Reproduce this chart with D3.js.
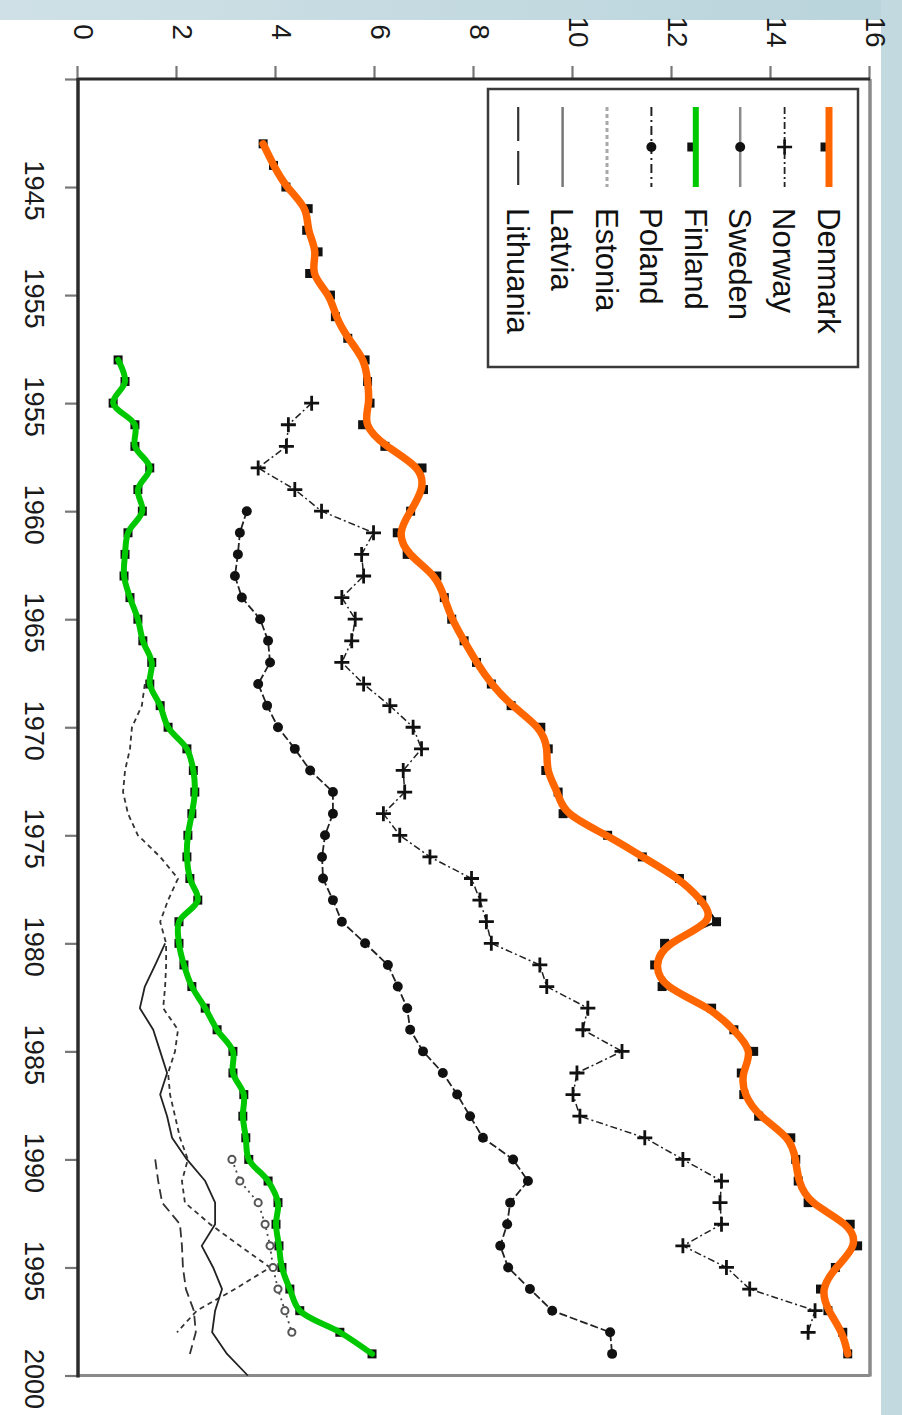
<!DOCTYPE html>
<html>
<head>
<meta charset="utf-8">
<script src="https://cdn.jsdelivr.net/npm/d3@7"></script>
<style>
  html, body { margin: 0; padding: 0; background: #ffffff; }
  svg { display: block; }
  text { font-family: "Liberation Sans", Arial, Helvetica, sans-serif; }
</style>
</head>
<body>
<svg id="chart" width="902" height="1415"></svg>
<script>
// ---- data -------------------------------------------------------------
const yearTicks = [1940, 1945, 1950, 1955, 1960, 1965, 1970, 1975, 1980, 1985, 1990, 1995, 2000];
const yearTickLabels = ["", "1945", "1955", "1955", "1960", "1965", "1970", "1975", "1980", "1985", "1990", "1995", "2000"];
const rateTicks = [0, 2, 4, 6, 8, 10, 12, 14, 16];

const countries = ["Denmark", "Norway", "Sweden", "Finland", "Poland", "Estonia", "Latvia", "Lithuania"];

const denmarkFrom = 1943;
const denmark = [3.74, 3.95, 4.2, 4.65, 4.62, 4.85, 4.68, 5.1, 5.2, 5.45,
                 5.8, 5.85, 5.9, 5.75, 6.2, 6.95, 6.98, 6.72, 6.45, 6.65,
                 7.25, 7.4, 7.55, 7.8, 8.05, 8.35, 8.75, 9.35, 9.5, 9.45,
                 9.7, 9.8, 10.7, 11.4, 12.15, 12.6, 12.9, 11.85, 11.65, 11.8,
                 12.8, 13.25, 13.65, 13.4, 13.45, 13.75, 14.4, 14.5, 14.55, 14.75,
                 15.6, 15.75, 15.3, 15.0, 15.15, 15.45, 15.55];

const norwayFrom = 1955;
const norway = [4.72, 4.25, 4.21, 3.64, 4.38, 4.92, 5.97, 5.73, 5.77, 5.33,
                5.6, 5.53, 5.33, 5.77, 6.3, 6.77, 6.94, 6.57, 6.6, 6.17,
                6.5, 7.11, 7.95, 8.12, 8.25, 8.35, 9.33, 9.47, 10.3, 10.2,
                10.99, 10.08, 10.0, 10.14, 11.45, 12.22, 13.0, 12.97, 13.0, 12.22,
                13.1, 13.57, 14.89, 14.75];

const swedenFrom = 1960;
const sweden = [3.41, 3.27, 3.23, 3.17, 3.31, 3.68, 3.84, 3.88, 3.64, 3.82,
                4.04, 4.38, 4.69, 5.15, 5.15, 4.99, 4.93, 4.95, 5.15, 5.33,
                5.8, 6.26, 6.46, 6.65, 6.71, 6.97, 7.37, 7.66, 7.92, 8.18,
                8.79, 9.09, 8.73, 8.67, 8.53, 8.69, 9.13, 9.58, 10.75, 10.79];

const finlandFrom = 1953;
const finland = [0.81, 0.95, 0.71, 1.15, 1.15, 1.45, 1.21, 1.3, 1.01, 0.95,
                 0.93, 1.05, 1.21, 1.31, 1.49, 1.45, 1.66, 1.82, 2.2, 2.33,
                 2.36, 2.3, 2.22, 2.2, 2.26, 2.42, 2.04, 2.04, 2.14, 2.3,
                 2.57, 2.81, 3.13, 3.13, 3.35, 3.33, 3.39, 3.45, 3.84, 4.04,
                 4.0, 4.06, 4.12, 4.28, 4.48, 5.29, 5.94];

const polandFrom = 1990;
const poland = [3.11, 3.27, 3.64, 3.78, 3.88, 3.94, 4.04, 4.18, 4.32];

const estoniaFrom = 1968;
const estonia = [1.35, 1.29, 1.09, 1.05, 0.95, 0.91, 1.01, 1.21, 1.66, 2.02,
                 1.82, 1.66, 1.78, 1.78, 1.76, 1.72, 2.02, 1.96, 1.82, 1.86,
                 1.96, 2.06, 2.22, 2.1, 2.16, 2.67, 3.27, 3.88, 3.17, 2.4, 2.0];

const latviaFrom = 1980;
const latvia = [1.76, 1.56, 1.35, 1.25, 1.52, 1.66, 1.8, 1.66, 1.8, 1.9,
                2.2, 2.57, 2.77, 2.77, 2.5, 2.73, 2.91, 2.77, 2.71, 3.01, 3.43];

const lithuaniaFrom = 1990;
const lithuania = [1.56, 1.62, 1.7, 2.06, 2.1, 2.12, 2.18, 2.34, 2.38, 2.26];

// ---- helpers ----------------------------------------------------------
const toPoints = (values, from) => values.map((v, i) => ({ year: from + i, value: v }));

const W = 902, H = 1415;
const svg = d3.select("#chart");

// slide background bands
const defs = svg.append("defs");
const topGrad = defs.append("linearGradient").attr("id", "bandTop").attr("x1", 0).attr("x2", 1).attr("y1", 0).attr("y2", 0);
topGrad.append("stop").attr("offset", "0%").attr("stop-color", "#cfe1e6");
topGrad.append("stop").attr("offset", "100%").attr("stop-color", "#b9d4db");
svg.append("rect").attr("x", 0).attr("y", 0).attr("width", W).attr("height", 20).attr("fill", "url(#bandTop)");
svg.append("rect").attr("x", 881).attr("y", 0).attr("width", W - 881).attr("height", H).attr("fill", "#c2d9df");

// the plot is laid out landscape and turned a quarter turn clockwise
const plot = svg.append("g").attr("transform", `translate(${W},0) rotate(90)`);

const x = d3.scaleLinear().domain([1940, 2000]).range([79, 1375.5]);
const y = d3.scaleLinear().domain([0, 16]).range([824, 32]);

// frame: light outer edges
plot.append("line").attr("x1", x(1940)).attr("x2", x(2000) + 1).attr("y1", y(16)).attr("y2", y(16))
  .attr("stroke", "#8a8a8a").attr("stroke-width", 3.5);
plot.append("line").attr("x1", x(2000)).attr("x2", x(2000)).attr("y1", y(16)).attr("y2", y(0))
  .attr("stroke", "#8a8a8a").attr("stroke-width", 3);

// axes
const fontAxis = 27;
const gx = plot.append("g").attr("transform", `translate(0,${y(0)})`)
  .call(d3.axisBottom(x).tickValues(yearTicks).tickFormat((d, i) => yearTickLabels[i]).tickSize(13).tickPadding(21));
gx.select(".domain").remove();
gx.selectAll(".tick line").attr("stroke", "#777").attr("stroke-width", 2.2);
gx.selectAll(".tick text").attr("font-size", fontAxis).attr("fill", "#1a1a1a").attr("dx", 3)
  .style("font-family", "'Liberation Sans', Arial, sans-serif");

const gy = plot.append("g").attr("transform", `translate(${x(1940)},0)`)
  .call(d3.axisLeft(y).tickValues(rateTicks).tickSize(13));
gy.select(".domain").remove();
gy.selectAll(".tick line").attr("stroke", "#777").attr("stroke-width", 2.2);
gy.selectAll(".tick text").attr("font-size", 28).attr("fill", "#1a1a1a")
  .attr("text-anchor", "middle").attr("x", -47).attr("dy", "0.32em").attr("y", -5)
  .style("font-family", "'Liberation Sans', Arial, sans-serif");

// dark axis lines
plot.append("line").attr("x1", x(1940) - 1).attr("x2", x(2000) + 2).attr("y1", y(0)).attr("y2", y(0))
  .attr("stroke", "#2b2b2b").attr("stroke-width", 3.5);
plot.append("line").attr("x1", x(1940)).attr("x2", x(1940)).attr("y1", y(16)).attr("y2", y(0))
  .attr("stroke", "#2b2b2b").attr("stroke-width", 3);

// ---- series -----------------------------------------------------------
const line = d3.line().x(d => x(d.year)).y(d => y(d.value));
const smoothDk = d3.line().x(d => x(d.year)).y(d => y(d.value)).curve(d3.curveBasis);
const smoothFi = d3.line().x(d => x(d.year)).y(d => y(d.value)).curve(d3.curveCatmullRom.alpha(0.5));
const crossPath = "M-7.5,0H7.5M0,-7.5V7.5";
const squarePath = d3.symbol().type(d3.symbolSquare).size(81)();

function drawLine(data, stroke, width, dash) {
  plot.append("path").datum(data).attr("fill", "none").attr("stroke", stroke)
    .attr("stroke-width", width).attr("stroke-dasharray", dash || null)
    .attr("stroke-linejoin", "round").attr("d", line);
}
function drawMarks(data, pathD, opts) {
  plot.append("g").selectAll("path").data(data).join("path")
    .attr("transform", d => `translate(${x(d.year)},${y(d.value)})`)
    .attr("d", pathD)
    .attr("fill", opts.fill).attr("stroke", opts.stroke || "none").attr("stroke-width", opts.sw || 0);
}

const dk = toPoints(denmark, denmarkFrom);
const no = toPoints(norway, norwayFrom);
const se = toPoints(sweden, swedenFrom);
const fi = toPoints(finland, finlandFrom);
const pl = toPoints(poland, polandFrom);
const ee = toPoints(estonia, estoniaFrom);
const lv = toPoints(latvia, latviaFrom);
const lt = toPoints(lithuania, lithuaniaFrom);

// Baltic states and Poland
drawLine(ee, "#333", 1.8, "5,4");
drawLine(lv, "#222", 1.8);
drawLine(lt, "#333", 1.8, "10,5");
drawLine(pl, "#444", 1.8, "2,4");
drawMarks(pl, d3.symbol().type(d3.symbolCircle).size(40)(), { fill: "#fff", stroke: "#555", sw: 2 });

// Sweden
drawLine(se, "#222", 1.8, "8,3");
drawMarks(se, d3.symbol().type(d3.symbolCircle).size(78)(), { fill: "#111" });

// Norway
drawLine(no, "#222", 1.5, "7,3,2,3");
drawMarks(no, crossPath, { fill: "none", stroke: "#111", sw: 2.8 });

// Finland
drawLine(fi, "#111", 2);
drawMarks(fi, squarePath, { fill: "#111" });
plot.append("path").datum(fi).attr("fill", "none").attr("stroke", "#00c800")
  .attr("stroke-width", 6).attr("stroke-linecap", "round").attr("stroke-linejoin", "round").attr("d", smoothFi);

// Denmark
drawLine(dk, "#111", 2);
drawMarks(dk, squarePath, { fill: "#111" });
plot.append("path").datum(dk).attr("fill", "none").attr("stroke", "#ff6600")
  .attr("stroke-width", 7.5).attr("stroke-linecap", "round").attr("stroke-linejoin", "round").attr("d", smoothDk);

// ---- legend -----------------------------------------------------------
const lg = plot.append("g");
lg.append("rect").attr("x", 89).attr("y", 44).attr("width", 278).attr("height", 370)
  .attr("fill", "#fff").attr("stroke", "#3a3a3a").attr("stroke-width", 2.5);

const rowY = i => 73 + i * 44.4;
const s0 = 107, s1 = 187, sm = 147;
const legendStyles = {
  Denmark:   { stroke: "#ff6600", width: 7, dash: null, mark: "square", under: true },
  Norway:    { stroke: "#222", width: 1.8, dash: "7,3,2,3", mark: "cross" },
  Sweden:    { stroke: "#8a8a8a", width: 2.5, dash: null, mark: "dot" },
  Finland:   { stroke: "#00c800", width: 6, dash: null, mark: "square", under: true },
  Poland:    { stroke: "#222", width: 2, dash: "9,4,2,4", mark: "dot" },
  Estonia:   { stroke: "#a8a8a8", width: 3, dash: "4,3", mark: null },
  Latvia:    { stroke: "#777", width: 2.5, dash: null, mark: null },
  Lithuania: { stroke: "#333", width: 2.2, dash: "34,10", mark: null }
};

countries.forEach((name, i) => {
  const st = legendStyles[name];
  const cy = rowY(i);
  const g = lg.append("g");
  const mark = () => {
    if (st.mark === "square") g.append("path").attr("transform", `translate(${sm},${cy + 4})`).attr("d", squarePath).attr("fill", "#111");
    if (st.mark === "dot") g.append("circle").attr("cx", sm).attr("cy", cy).attr("r", 5).attr("fill", "#111");
    if (st.mark === "cross") g.append("path").attr("transform", `translate(${sm},${cy})`).attr("d", crossPath)
      .attr("stroke", "#111").attr("stroke-width", 2.6).attr("fill", "none");
  };
  if (st.under) mark();
  g.append("line").attr("x1", s0).attr("x2", s1).attr("y1", cy).attr("y2", cy)
    .attr("stroke", st.stroke).attr("stroke-width", st.width).attr("stroke-dasharray", st.dash);
  if (!st.under) mark();
  g.append("text").attr("x", 208).attr("y", cy).attr("dy", "0.36em")
    .attr("font-size", 31).attr("fill", "#111").text(name);
});
</script>
</body>
</html>
